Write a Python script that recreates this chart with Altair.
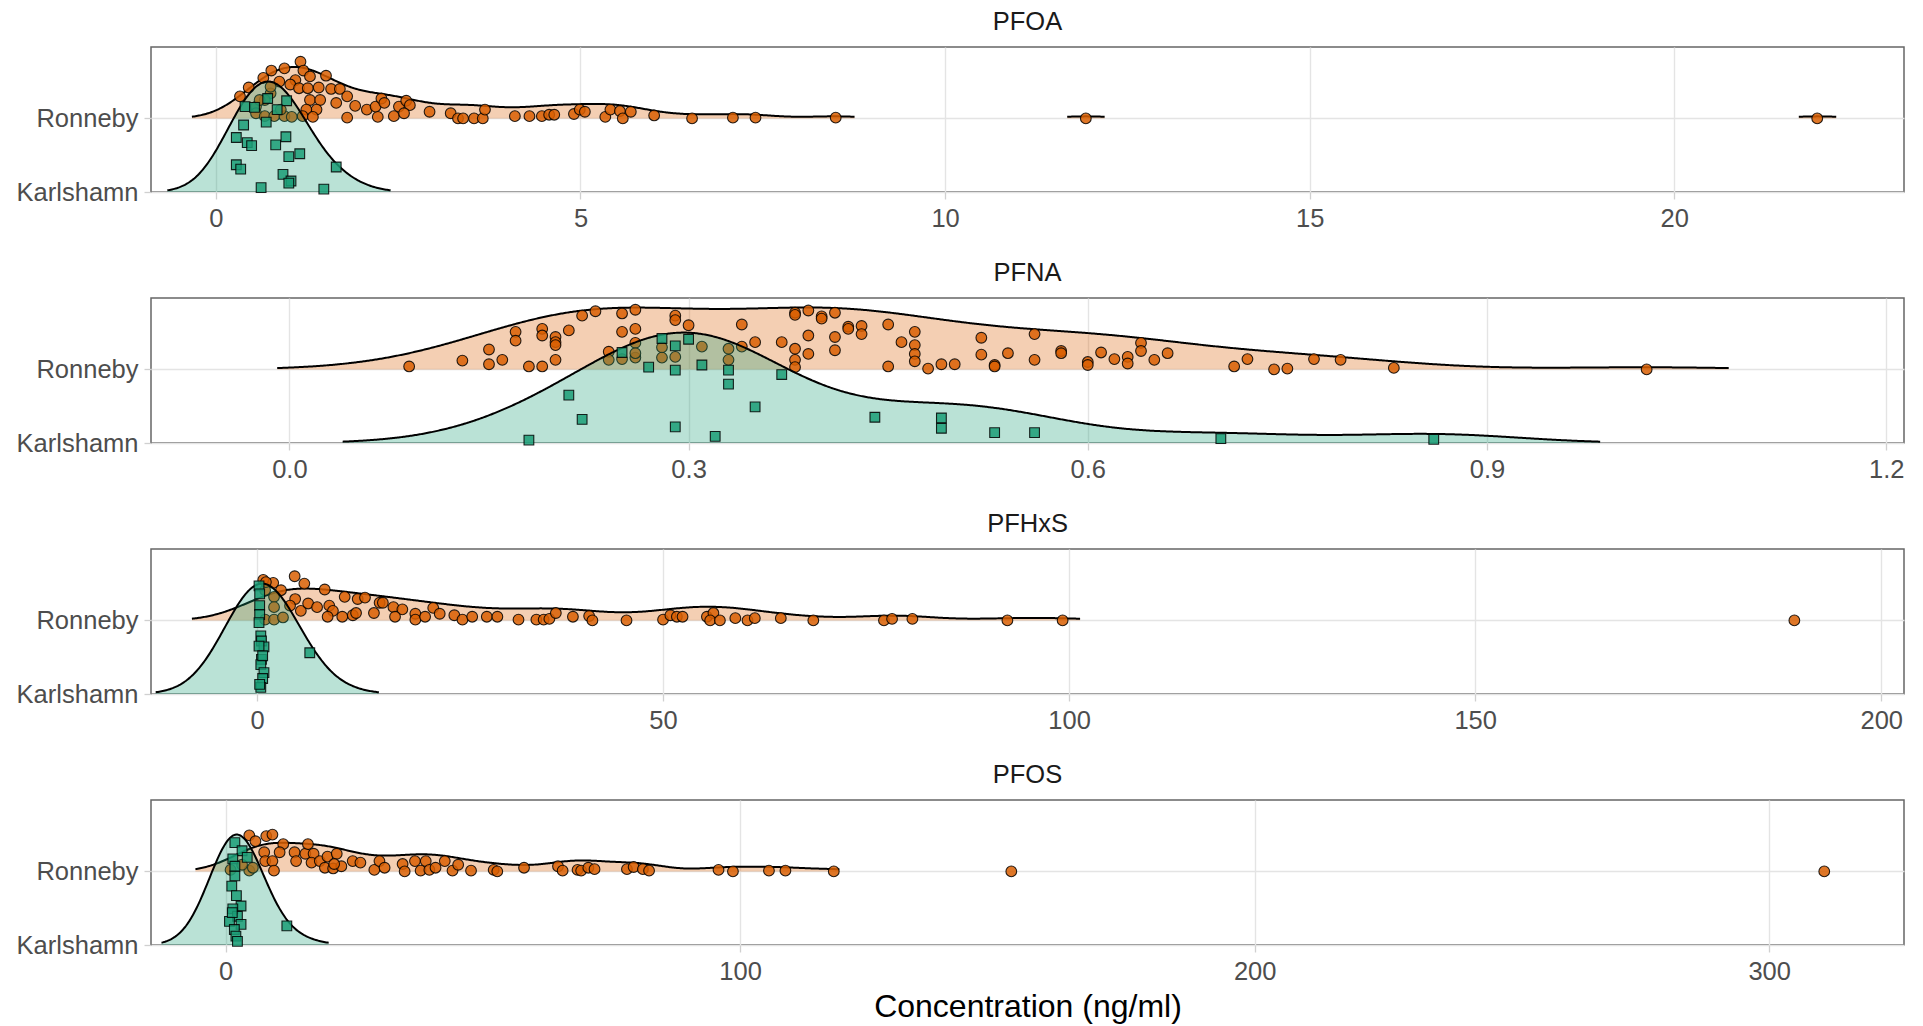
import altair as alt
import pandas as pd

FONT = "Liberation Sans"
ORANGE = "#D95F02"
GREEN = "#1B9E77"

substances = ["PFOA", "PFNA", "PFHxS", "PFOS"]
sites = ["Ronneby", "Karlshamn"]

# ---------------- PFOA ----------------
pfoa_ronneby = [0.33, 0.45, 0.65, 0.76, 0.94, 1.16, 1.20, 1.29, 1.51, 1.09, 1.02, 0.87, 0.75, 0.67, 0.55,
                1.14, 1.26, 1.41, 1.58, 1.70, 1.80, 1.65, 1.29, 1.43, 1.38, 1.24, 1.19, 1.33, 1.91, 2.07,
                2.22, 2.19, 2.27, 2.31, 2.44, 2.51, 2.61, 2.66, 2.58, 1.80, 2.93, 3.22, 3.32, 3.39, 3.54,
                3.66, 3.69, 4.10, 4.30, 4.47, 4.57, 4.64, 0.55, 0.67, 0.80, 0.94, 1.04, 0.89, 0.60, 0.75,
                4.91, 4.99, 5.06, 5.34, 5.41, 5.54, 5.58, 5.69, 6.01, 6.53, 7.09, 7.40, 8.50, 11.93, 21.96]
pfoa_ronneby_jit = [0.30, 0.42, 0.55, 0.65, 0.68, 0.77, 0.65, 0.57, 0.58, 0.52, 0.46, 0.50, 0.34, 0.25, 0.16,
                    0.41, 0.41, 0.42, 0.40, 0.40, 0.30, 0.21, 0.25, 0.25, 0.12, 0.12, 0.03, 0.02, 0.17, 0.12,
                    0.02, 0.16, 0.27, 0.21, 0.03, 0.16, 0.24, 0.18, 0.07, 0.01, 0.09, 0.07, 0.00, 0.00, 0.00,
                    0.00, 0.12, 0.03, 0.03, 0.03, 0.05, 0.05, 0.07, 0.03, 0.03, 0.03, 0.02, 0.12, 0.25, 0.43,
                    0.06, 0.12, 0.09, 0.02, 0.12, 0.10, 0.00, 0.09, 0.04, 0.00, 0.01, 0.01, 0.01, 0.00, 0.00]
pfoa_karlshamn = [0.40, 0.53, 0.71, 0.97, 0.84, 0.69, 0.38, 0.28, 0.43, 0.49, 0.82, 0.96, 1.15, 1.00, 0.28,
                  0.34, 0.92, 1.03, 1.00, 1.65, 0.62, 1.48]
pfoa_karlshamn_jit = [1.16, 1.15, 1.27, 1.24, 1.12, 0.95, 0.91, 0.74, 0.67, 0.63, 0.64, 0.75, 0.52, 0.48, 0.37,
                      0.31, 0.24, 0.15, 0.12, 0.34, 0.06, 0.04]

# ---------------- PFNA ----------------
pfna_ronneby = [0.09, 0.13, 0.15, 0.15, 0.16, 0.17, 0.17, 0.18, 0.19, 0.19, 0.19, 0.20, 0.20, 0.20, 0.20,
                0.21, 0.22, 0.23, 0.24, 0.25, 0.25, 0.26, 0.26, 0.26, 0.29, 0.29, 0.30,
                0.24, 0.25, 0.26, 0.26, 0.28, 0.28, 0.29,
                0.31, 0.33, 0.33, 0.34, 0.34, 0.35, 0.37, 0.38, 0.38, 0.38, 0.38, 0.38, 0.39, 0.39, 0.39,
                0.40, 0.40, 0.41, 0.41, 0.41, 0.42, 0.42, 0.43, 0.43, 0.45, 0.45, 0.46, 0.47, 0.47, 0.47,
                0.47, 0.48, 0.49, 0.50, 0.52, 0.52, 0.53, 0.53, 0.54, 0.56, 0.56, 0.58, 0.58, 0.60, 0.60,
                0.61, 0.62, 0.63, 0.63, 0.64, 0.64, 0.65, 0.66, 0.71, 0.72,
                0.74, 0.75, 0.77, 0.79, 0.83, 1.02]
pfna_ronneby_jit = [0.04, 0.12, 0.07, 0.27, 0.13, 0.51, 0.39, 0.04, 0.04, 0.55, 0.46, 0.44, 0.37, 0.33, 0.13,
                    0.53, 0.73, 0.79, 0.24, 0.76, 0.51, 0.81, 0.55, 0.36, 0.73, 0.67, 0.60,
                    0.13, 0.14, 0.16, 0.22, 0.30, 0.16, 0.17,
                    0.31, 0.28, 0.13, 0.61, 0.31, 0.37, 0.37, 0.77, 0.74, 0.28, 0.13, 0.03, 0.80, 0.46, 0.21,
                    0.72, 0.69, 0.77, 0.44, 0.26, 0.58, 0.55, 0.59, 0.48, 0.61, 0.04, 0.37, 0.51, 0.33, 0.21,
                    0.11, 0.01, 0.07, 0.07, 0.43, 0.20, 0.06, 0.04, 0.22, 0.48, 0.13, 0.25, 0.22, 0.10, 0.06,
                    0.23, 0.14, 0.17, 0.08, 0.36, 0.25, 0.13, 0.22, 0.04, 0.14,
                    0.00, 0.01, 0.14, 0.13, 0.02, 0.00]
pfna_karlshamn = [0.25, 0.27, 0.28, 0.29, 0.29, 0.30, 0.21, 0.22, 0.29, 0.18, 0.31, 0.33, 0.33, 0.37, 0.35,
                  0.32, 0.44, 0.49, 0.49, 0.53, 0.56, 0.70, 0.86]
pfna_karlshamn_jit = [1.23, 1.03, 1.42, 1.32, 0.99, 1.41, 0.65, 0.32, 0.22, 0.04, 1.06, 0.99, 0.80, 0.93, 0.49,
                      0.09, 0.35, 0.34, 0.20, 0.14, 0.14, 0.06, 0.05]

# ---------------- PFHxS ----------------
pfhxs_ronneby = [0.77, 2.0, 2.96, 4.64, 5.83, 8.34, 10.8, 12.4, 13.3, 15.1, 15.5, 4.7, 4.07, 5.4, 6.3,
                 7.4, 8.9, 9.35, 8.7, 10.5, 11.8, 12.2, 14.4, 16.8, 17.9, 17.0, 19.5, 19.5, 20.7, 21.7,
                 22.5, 24.3, 25.3, 26.5, 28.3, 29.6, 32.2, 34.4, 35.3, 36.0, 36.8,
                 1.0, 2.1, 2.1, 1.0, 2.1, 3.2, 1.1,
                 38.9, 40.9, 41.3, 45.5, 50.0, 50.9, 51.7, 52.4, 55.4, 56.2, 55.8, 57.0, 58.9, 60.4, 61.3,
                 64.5, 68.5, 77.2, 78.2, 80.7, 92.4, 99.2, 189.3]
pfhxs_ronneby_jit = [0.55, 0.51, 0.41, 0.60, 0.50, 0.42, 0.32, 0.29, 0.31, 0.24, 0.24, 0.29, 0.20, 0.13, 0.23,
                     0.18, 0.20, 0.13, 0.05, 0.05, 0.07, 0.10, 0.10, 0.18, 0.15, 0.05, 0.09, 0.01, 0.05, 0.17,
                     0.09, 0.07, 0.01, 0.05, 0.05, 0.05, 0.01, 0.01, 0.01, 0.02, 0.10,
                     0.41, 0.32, 0.18, 0.01, 0.01, 0.04, 0.52,
                     0.05, 0.06, 0.00, 0.00, 0.01, 0.07, 0.05, 0.05, 0.05, 0.10, 0.00, 0.00, 0.03, 0.00, 0.03,
                     0.03, 0.00, 0.00, 0.02, 0.02, 0.00, 0.00, 0.00]
pfhxs_karlshamn = [0.25, 0.33, 0.33, 0.33, 0.47, 0.55, 0.86, 0.55, 0.47, 0.86, 0.70, 0.47, 0.25, 0.25, 0.70,
                   0.33, 6.5]
pfhxs_karlshamn_jit = [1.47, 1.36, 1.20, 1.08, 0.79, 0.72, 0.64, 0.47, 0.40, 0.29, 0.21, 0.09, 0.65, 0.97, 0.52,
                       0.13, 0.56]

# ---------------- PFOS ----------------
pfos_ronneby = [4.6, 5.8, 7.9, 9.1, 11.2, 10.5, 7.5, 7.7, 9.1, 9.4, 13.4, 13.7, 15.5, 16.0, 17.1,
                16.7, 18.3, 19.8, 21.6, 19.3, 20.9, 22.5, 21.1, 24.7, 26.2, 28.9, 29.9, 30.9, 34.4, 34.8,
                36.8, 37.9, 38.9, 39.6, 40.8, 42.6, 44.1, 45.2, 47.7, 52.1, 52.8, 58.0, 64.6,
                4.6, 0.96, 5.3, 3.2,
                65.5, 68.4, 69.1, 70.5, 71.7, 78.0, 79.3, 81.1, 82.3, 95.8, 98.6, 105.6, 108.8, 118.2,
                152.7, 310.7]
pfos_ronneby_jit = [0.49, 0.41, 0.48, 0.50, 0.37, 0.26, 0.26, 0.14, 0.14, 0.01, 0.26, 0.14, 0.24, 0.37, 0.24,
                    0.12, 0.14, 0.20, 0.24, 0.05, 0.04, 0.07, 0.10, 0.14, 0.12, 0.02, 0.14, 0.05, 0.10, 0.00,
                    0.14, 0.01, 0.14, 0.02, 0.05, 0.14, 0.01, 0.09, 0.01, 0.02, 0.00, 0.05, 0.07,
                    0.01, 0.02, 0.05, 0.09,
                    0.01, 0.02, 0.01, 0.05, 0.03, 0.03, 0.06, 0.03, 0.01, 0.02, 0.00, 0.01, 0.01, 0.00,
                    0.00, 0.00]
pfos_karlshamn = [1.8, 3.2, 4.2, 1.4, 1.8, 1.2, 2.1, 3.0, 1.4, 2.3, 0.75, 3.0, 1.7, 2.0, 2.3, 11.9, 1.3, 1.8]
pfos_karlshamn_jit = [1.39, 1.28, 1.19, 1.17, 0.94, 0.80, 0.67, 0.53, 0.49, 0.39, 0.32, 0.28, 0.21, 0.12, 0.05,
                      0.26, 0.44, 1.07]

series = {
    ("PFOA", "Ronneby"): (pfoa_ronneby, pfoa_ronneby_jit),
    ("PFOA", "Karlshamn"): (pfoa_karlshamn, pfoa_karlshamn_jit),
    ("PFNA", "Ronneby"): (pfna_ronneby, pfna_ronneby_jit),
    ("PFNA", "Karlshamn"): (pfna_karlshamn, pfna_karlshamn_jit),
    ("PFHxS", "Ronneby"): (pfhxs_ronneby, pfhxs_ronneby_jit),
    ("PFHxS", "Karlshamn"): (pfhxs_karlshamn, pfhxs_karlshamn_jit),
    ("PFOS", "Ronneby"): (pfos_ronneby, pfos_ronneby_jit),
    ("PFOS", "Karlshamn"): (pfos_karlshamn, pfos_karlshamn_jit),
}

rows = []
for (sub, site), (vals, jits) in series.items():
    for v, j in zip(vals, jits):
        rows.append({"substance": sub, "site": site, "value": v, "jit": j})
df = pd.DataFrame(rows)

# per-panel scale / density settings
settings = {
    "PFOA": dict(bw=0.39, dom=[-0.89, 23.15], ticks=[0, 5, 10, 15, 20], fmt="d", cut=0.0145),
    "PFNA": dict(bw=0.0646, dom=[-0.104, 1.2134], ticks=[0, 0.3, 0.6, 0.9, 1.2], fmt=".1f", cut=0.012),
    "PFHxS": dict(bw=4.5, dom=[-13.05, 202.8], ticks=[0, 50, 100, 150, 200], fmt="d", cut=0.015),
    "PFOS": dict(bw=5.17, dom=[-14.5, 326.2], ticks=[0, 100, 200, 300], fmt="d", cut=0.019),
}

YMAX = 2.97
HSCALE = 1.5
W, H = 1753, 145


def panel(sub, last):
    s = settings[sub]
    src = alt.Chart(df).transform_filter(alt.datum.substance == sub)
    x = alt.X("value:Q",
              scale=alt.Scale(domain=s["dom"], nice=False, zero=False),
              axis=alt.Axis(values=s["ticks"], format=s["fmt"], labelFlush=False,
                            title="Concentration (ng/ml)" if last else None))
    ysc = alt.Scale(domain=[1, YMAX], nice=False, zero=False)
    yax = alt.Axis(values=[1, 2], labelExpr="datum.value == 2 ? 'Ronneby' : 'Karlshamn'", title=None)

    dens = (src.transform_density("value", as_=["value", "density"], groupby=["site"],
                                  bandwidth=s["bw"], extent=s["dom"], steps=1500)
            .transform_joinaggregate(maxd="max(density)")
            .transform_calculate(base="datum.site == 'Ronneby' ? 2 : 1")
            .transform_calculate(top=f"datum.density >= {s['cut']} * datum.maxd ? "
                                     f"datum.base + {HSCALE} * datum.density / datum.maxd : null"))
    pts = src.transform_calculate(py="(datum.site == 'Ronneby' ? 2 : 1) + datum.jit")

    def ridge(site, color):
        return (dens.transform_filter(alt.datum.site == site)
                .mark_area(fill=color, fillOpacity=0.3,
                           line={"color": "black", "strokeWidth": 2})
                .encode(x=x, y=alt.Y("top:Q", scale=ysc, axis=yax), y2="base:Q"))

    def dots(site, color, shape, size):
        return (pts.transform_filter(alt.datum.site == site)
                .mark_point(shape=shape, filled=True, size=size, fill=color, opacity=1,
                            fillOpacity=0.85, stroke="black", strokeWidth=1.1, strokeOpacity=0.85)
                .encode(x=x, y=alt.Y("py:Q", scale=ysc, axis=yax)))

    return alt.layer(
        ridge("Ronneby", ORANGE),
        dots("Ronneby", ORANGE, "circle", 115),
        ridge("Karlshamn", GREEN),
        dots("Karlshamn", GREEN, "square", 95),
    ).properties(
        width=W, height=H,
        title=alt.TitleParams(sub, fontSize=25.5, font=FONT, fontWeight="normal",
                              color="#1A1A1A", anchor="middle", offset=12),
    )


charts = [panel(s, i == len(substances) - 1) for i, s in enumerate(substances)]

chart = (
    alt.vconcat(*charts, spacing=26)
    .properties(padding={"left": 15, "top": 8, "right": 0, "bottom": 0})
    .configure_view(stroke="#666666", strokeWidth=1.5)
    .configure_axis(grid=True, gridColor="#E4E4E4", gridWidth=1.4, domain=False,
                    tickColor="#D0D0D0", tickSize=7, tickWidth=1.3,
                    labelFont=FONT, labelFontSize=25.5, labelColor="#4D4D4D",
                    titleFont=FONT, titleFontSize=32, titleColor="black", titleFontWeight="normal")
    .configure_axisX(labelPadding=7, titlePadding=7)
    .configure_axisY(labelPadding=6)
)

chart.save("out.html", embed_options={"renderer": "svg", "actions": False})
